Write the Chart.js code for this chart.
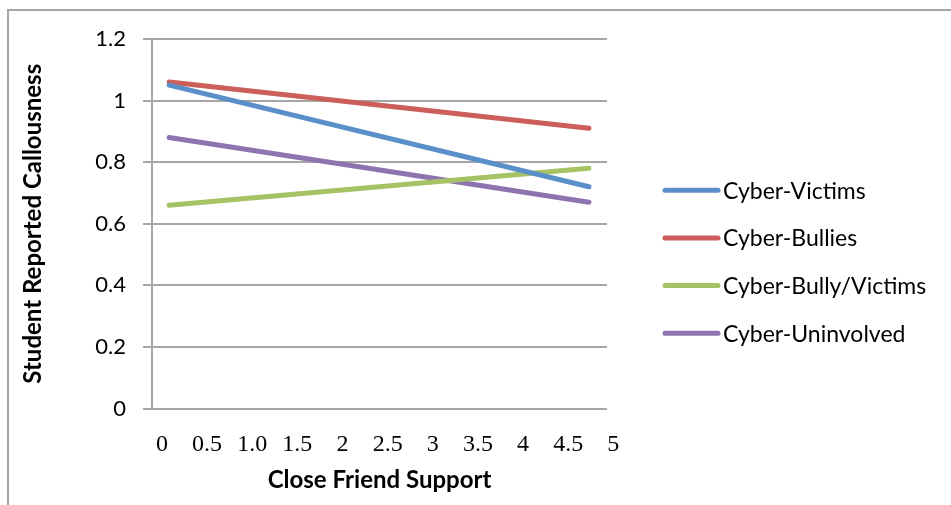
<!DOCTYPE html>
<html>
<head>
<meta charset="utf-8">
<script src="https://cdn.jsdelivr.net/npm/chart.js@4.4.1/dist/chart.umd.min.js"></script>
<style>
  body { margin: 0; background: #fff; }
  #wrap { position: relative; width: 951px; height: 505px; overflow: hidden; }
  #frame { position: absolute; left: 7px; top: 9px; width: 1000px; height: 600px;
           border-left: 2px solid #a6a6a6; border-top: 2px solid #a6a6a6; }
  #myChart { position: absolute; left: 0; top: 0; }
</style>
</head>
<body>
<div id="wrap">
  <div id="frame"></div>
  <canvas id="myChart" width="951" height="505"></canvas>
</div>
<script>
// data
var xPoints = [0.08, 4.73];
var victims = [1.05, 0.72];
var bullies = [1.06, 0.91];
var bullyVictims = [0.66, 0.78];
var uninvolved = [0.88, 0.67];

var xTicks = [0, 0.5, 1, 1.5, 2, 2.5, 3, 3.5, 4, 4.5, 5];
var xTickLabels = ['0', '0.5', '1.0', '1.5', '2', '2.5', '3', '3.5', '4', '4.5', '5'];

var gridColor = '#a6a6a6';

function toPoints(values) {
  return values.map(function(v, i) { return { x: xPoints[i], y: v }; });
}

function lineSet(label, values, color) {
  return {
    label: label,
    data: toPoints(values),
    borderColor: color,
    backgroundColor: color,
    borderWidth: 5,
    borderCapStyle: 'round',
    pointRadius: 0,
    pointHoverRadius: 0,
    tension: 0,
    fill: false
  };
}

// legend to the right of the plot: short line + label for each series
var sideLegend = {
  id: 'sideLegend',
  afterDraw: function(chart) {
    var c = chart.ctx;
    var area = chart.chartArea;
    var step = 47.7;
    var x0 = area.right + 58;
    var y0 = (area.top + area.bottom) / 2 + 38 - 1.5 * step;
    c.save();
    c.font = '23px Lato';
    c.textBaseline = 'middle';
    c.fillStyle = '#000';
    chart.data.datasets.forEach(function(ds, i) {
      var y = y0 + i * step;
      c.beginPath();
      c.lineWidth = 5;
      c.lineCap = 'round';
      c.strokeStyle = ds.borderColor;
      c.moveTo(x0, y);
      c.lineTo(x0 + 53, y);
      c.stroke();
      c.fillText(ds.label, x0 + 58, y + 1);
    });
    c.restore();
  }
};

var ctx = document.getElementById('myChart').getContext('2d');

var myChart = new Chart(ctx, {
  type: 'line',
  data: {
    datasets: [
      lineSet('Cyber-Victims', victims, '#5b8fc9'),
      lineSet('Cyber-Bullies', bullies, '#cc5f5a'),
      lineSet('Cyber-Bully/Victims', bullyVictims, '#a5c365'),
      lineSet('Cyber-Uninvolved', uninvolved, '#8f73b0')
    ]
  },
  plugins: [sideLegend],
  options: {
    responsive: false,
    animation: false,
    layout: { padding: { top: 39, left: 8, right: 344, bottom: 0 } },
    plugins: {
      tooltip: { enabled: false },
      legend: { display: false }
    },
    scales: {
      x: {
        type: 'linear',
        min: -0.11,
        max: 4.93,
        afterBuildTicks: function(scale) {
          scale.ticks = xTicks.map(function(v) { return { value: v }; });
        },
        afterFit: function(scale) { scale.height = 96.5; },
        grid: { display: false, drawTicks: false },
        border: { display: false },
        ticks: {
          autoSkip: false,
          maxRotation: 0,
          padding: 22,
          color: '#000',
          font: { family: 'Liberation Serif', size: 24 },
          callback: function(value, index) { return xTickLabels[index]; }
        },
        title: {
          display: true,
          text: 'Close Friend Support',
          color: '#000',
          font: { family: 'Lato', size: 24, weight: 'bold' },
          padding: { top: 4, bottom: 10.6 }
        }
      },
      y: {
        min: 0,
        max: 1.2,
        afterFit: function(scale) { scale.width = 144; },
        grid: { color: gridColor, lineWidth: 2, tickLength: 9 },
        border: { color: gridColor, width: 2 },
        ticks: {
          stepSize: 0.2,
          padding: 17,
          color: '#000',
          font: { family: 'Lato', size: 22 },
          callback: function(value) { return String(+value.toFixed(1)); }
        },
        title: {
          display: true,
          text: 'Student Reported Callousness',
          color: '#000',
          font: { family: 'Lato', size: 24, weight: 'bold' },
          padding: { top: 10.6, bottom: 4 }
        }
      }
    }
  }
});
</script>
</body>
</html>
